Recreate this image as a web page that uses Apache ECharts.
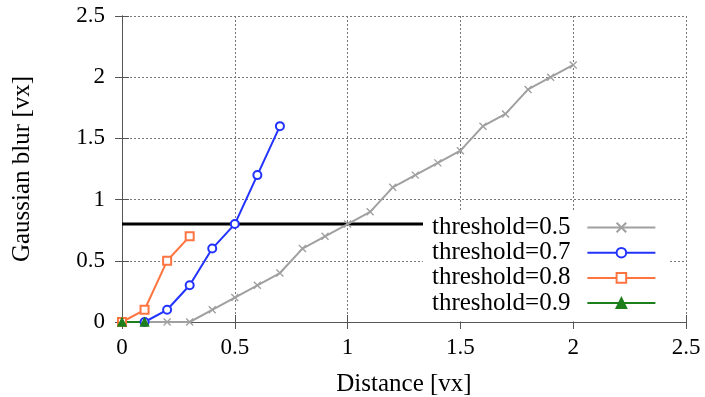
<!DOCTYPE html>
<html>
<head>
<meta charset="utf-8">
<script src="https://cdn.jsdelivr.net/npm/echarts@6/dist/echarts.min.js"></script>
<style>
  html, body { margin: 0; padding: 0; background: #fff; }
  #chart { width: 705px; height: 397px; }
</style>
</head>
<body>
<div id="chart"></div>
<script>
const distances = [0, 0.1, 0.2, 0.3, 0.4, 0.5, 0.6, 0.7, 0.8, 0.9, 1.0, 1.1, 1.2, 1.3, 1.4, 1.5, 1.6, 1.7, 1.8, 1.9, 2.0];
const blur05 = [0, 0, 0, 0, 0.1, 0.2, 0.3, 0.4, 0.6, 0.7, 0.8, 0.9, 1.1, 1.2, 1.3, 1.4, 1.6, 1.7, 1.9, 2.0, 2.1];
const blur07 = [0, 0, 0.1, 0.3, 0.6, 0.8, 1.2, 1.6];
const blur08 = [0, 0.1, 0.5, 0.7];
const blur09 = [0, 0];
const cutoffX = [0, 2.0];
const cutoffY = [0.8, 0.8];
const ticks = [0, 0.5, 1, 1.5, 2, 2.5];

const pairs = (ys) => ys.map((y, i) => [distances[i], y]);
const serif = "Liberation Serif";
const frame = "#555";

const chart = echarts.init(document.getElementById("chart"));

const baseAxis = {
  type: "value",
  min: ticks[0],
  max: ticks[ticks.length - 1],
  interval: 0.5,
  axisLine: { show: true, lineStyle: { color: frame, width: 1 } },
  axisTick: { show: true, inside: true, length: 7, lineStyle: { color: frame } },
  axisLabel: { color: "#000", fontFamily: serif, fontSize: 23 },
  splitLine: { show: true, lineStyle: { color: "#777", type: [2, 2], width: 1 } },
};
const mirror = {
  ...baseAxis,
  axisLabel: { show: false },
  splitLine: { show: false },
};

function line(name, ys, color, symbol, size) {
  return {
    name,
    type: "line",
    data: pairs(ys),
    symbol,
    symbolSize: size,
    showAllSymbol: true,
    lineStyle: { color, width: 2 },
    itemStyle: { color, borderColor: color, borderWidth: 1.4 },
    emphasis: { disabled: true },
  };
}

chart.setOption({
  animation: false,
  backgroundColor: "#fff",
  grid: { left: 122, right: 19, top: 16, bottom: 75, outerBoundsMode: "none" },
  xAxis: [
    {
      ...baseAxis,
      position: "bottom",
      name: "Distance [vx]",
      nameLocation: "middle",
      nameGap: 50,
      nameTextStyle: { color: "#000", fontFamily: serif, fontSize: 25 },
      axisLabel: { ...baseAxis.axisLabel, margin: 14 },
    },
    { ...mirror, position: "top" },
  ],
  yAxis: [
    {
      ...baseAxis,
      position: "left",
      name: "Gaussian blur [vx]",
      nameLocation: "middle",
      nameGap: 87,
      nameRotate: 90,
      nameTextStyle: { color: "#000", fontFamily: serif, fontSize: 25 },
      axisLabel: { ...baseAxis.axisLabel, margin: 17 },
    },
    { ...mirror, position: "right" },
  ],
  legend: {
    data: ["threshold=0.5", "threshold=0.7", "threshold=0.8", "threshold=0.9"],
    orient: "vertical",
    align: "right",
    left: 423,
    top: 212,
    padding: [3, 13, 6, 9],
    itemWidth: 68,
    itemHeight: 12,
    itemGap: 0.2,
    backgroundColor: "#fff",
    selectedMode: false,
    textStyle: { color: "#000", fontFamily: serif, fontSize: 25, lineHeight: 21, padding: [0, 12, 0, 0] },
  },
  series: [
    {
      name: "cutoff",
      type: "line",
      data: cutoffX.map((x, i) => [x, cutoffY[i]]),
      symbol: "none",
      lineStyle: { color: "#000", width: 3 },
      emphasis: { disabled: true },
    },
    line("threshold=0.5", blur05, "#a0a0a0", "path://M0,0L10,10M0,10L10,0", 7),
    line("threshold=0.7", blur07, "#2233ff", "emptyCircle", 8),
    line("threshold=0.8", blur08, "#ff7440", "emptyRect", 8),
    line("threshold=0.9", blur09, "#1c7f1c", "triangle", 8),
  ],
});
</script>
</body>
</html>
